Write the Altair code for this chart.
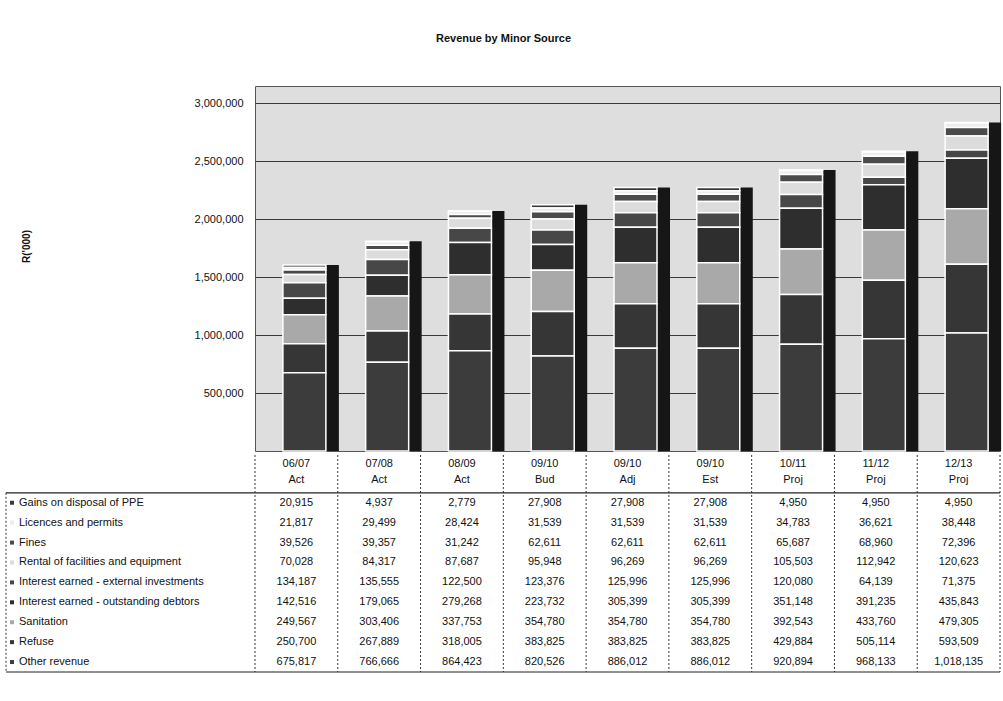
import altair as alt
import pandas as pd

# ---------------- data ----------------
years = ["06/07", "07/08", "08/09", "09/10", "09/10", "09/10", "10/11", "11/12", "12/13"]
kinds = ["Act", "Act", "Act", "Bud", "Adj", "Est", "Proj", "Proj", "Proj"]

series = [
    "Gains on disposal of PPE",
    "Licences and permits",
    "Fines",
    "Rental of facilities and equipment",
    "Interest earned - external investments",
    "Interest earned - outstanding debtors",
    "Sanitation",
    "Refuse",
    "Other revenue",
]

gains = [20915, 4937, 2779, 27908, 27908, 27908, 4950, 4950, 4950]
licences = [21817, 29499, 28424, 31539, 31539, 31539, 34783, 36621, 38448]
fines = [39526, 39357, 31242, 62611, 62611, 62611, 65687, 68960, 72396]
rental = [70028, 84317, 87687, 95948, 96269, 96269, 105503, 112942, 120623]
int_external = [134187, 135555, 122500, 123376, 125996, 125996, 120080, 64139, 71375]
int_debtors = [142516, 179065, 279268, 223732, 305399, 305399, 351148, 391235, 435843]
sanitation = [249567, 303406, 337753, 354780, 354780, 354780, 392543, 433760, 479305]
refuse = [250700, 267889, 318005, 383825, 383825, 383825, 429884, 505114, 593509]
other = [675817, 766666, 864423, 820526, 886012, 886012, 920894, 968133, 1018135]

values = [gains, licences, fines, rental, int_external, int_debtors, sanitation, refuse, other]

colors = ["#3a3a3a", "#ececec", "#4a4a4a", "#dcdcdc", "#474747",
          "#2e2e2e", "#a9a9a9", "#363636", "#3c3c3c"]

y_ticks = [500000, 1000000, 1500000, 2000000, 2500000, 3000000]

FONT = "Liberation Sans"

# ---------------- frames ----------------
cat_ids = [f"{y} {k}" for y, k in zip(years, kinds)]
rows = []
for si, (s, vals) in enumerate(zip(series, values)):
    for ci, v in enumerate(vals):
        rows.append({
            "series": s,
            "cat": cat_ids[ci],
            "col": ci + 0.5,
            "row": 1.9 + si + 0.5,
            "stack": len(series) - 1 - si,
            "value": v,
            "txt": f"{v:,}",
        })
df = pd.DataFrame(rows)

totals = pd.DataFrame({
    "cat": cat_ids,
    "total": [sum(v[i] for v in values) for i in range(len(cat_ids))],
})

hdr = pd.DataFrame({
    "col": [i + 0.5 for i in range(len(years))],
    "year": years, "kind": kinds,
    "ry": [0.45] * len(years), "rk": [1.25] * len(years),
})
lbl = pd.DataFrame({"series": series, "row": [1.9 + i + 0.5 for i in range(len(series))]})
vlines = pd.DataFrame({"x": list(range(len(years) + 1)), "y0": 0.0, "y1": 10.9})
hlines = pd.DataFrame({"y": [1.9, 10.9], "x0": 0.0, "x1": 9.0})
lab_vl = pd.DataFrame({"y0": [1.9], "y1": [10.9]})
lab_hl = pd.DataFrame({"y": [1.9, 10.9]})

color_scale = alt.Scale(domain=series, range=colors)

# ---------------- bar chart ----------------
xband = alt.X("cat:N", sort=cat_ids, axis=None,
              scale=alt.Scale(paddingInner=0, paddingOuter=0))
yq = alt.Scale(domain=[0, 3150000], nice=False)

side = alt.Chart(totals).mark_bar(width=13, xOffset=36, color="#161616").encode(
    x=xband,
    y=alt.Y("total:Q", scale=yq),
)

bars = alt.Chart(df).mark_bar(width=43, xOffset=8, stroke="#ffffff", strokeWidth=1.5).encode(
    x=xband,
    y=alt.Y("value:Q", stack="zero", scale=yq,
            axis=alt.Axis(values=y_ticks, format=",d", ticks=False, domain=False,
                          labelFont=FONT, labelFontSize=11, labelColor="#111",
                          labelPadding=12, gridColor="#3a3a3a", gridWidth=1,
                          title="R('000)", titleFont=FONT, titleFontSize=10,
                          titleFontWeight="bold", titleColor="#111",
                          titleAngle=270, titleX=-229, titleY=160,
                          titleAlign="center", titleBaseline="middle")),
    color=alt.Color("series:N", scale=color_scale, legend=None),
    order=alt.Order("stack:Q", sort="ascending"),
)

bar_chart = alt.layer(side, bars).properties(
    width=745, height=365,
    view=alt.ViewBackground(fill="#dedede", stroke="#555555", strokeWidth=1),
)

spacer = alt.Chart(pd.DataFrame({"v": [0]})).mark_point(opacity=0).encode(
    y=alt.Y("v:Q", axis=None)
).properties(width=249, height=365, view=alt.ViewBackground(stroke=None))

# ---------------- table ----------------
ty = alt.Scale(domain=[-0.2, 10.9], reverse=True, nice=False, zero=False)
tx = alt.Scale(domain=[0, 9], nice=False, zero=False)

cells = alt.Chart(df).mark_text(font=FONT, fontSize=11, color="#111").encode(
    x=alt.X("col:Q", scale=tx, axis=None),
    y=alt.Y("row:Q", scale=ty, axis=None),
    text="txt:N",
)
hy = alt.Chart(hdr).mark_text(font=FONT, fontSize=11, color="#111").encode(
    x=alt.X("col:Q", scale=tx, axis=None),
    y=alt.Y("ry:Q", scale=ty, axis=None),
    text="year:N",
)
hk = alt.Chart(hdr).mark_text(font=FONT, fontSize=11, color="#111").encode(
    x=alt.X("col:Q", scale=tx, axis=None),
    y=alt.Y("rk:Q", scale=ty, axis=None),
    text="kind:N",
)
vl = alt.Chart(vlines).mark_rule(color="#333", strokeDash=[2, 2], strokeWidth=1).encode(
    x=alt.X("x:Q", scale=tx, axis=None),
    y=alt.Y("y0:Q", scale=ty, axis=None),
    y2="y1:Q",
)
hl = alt.Chart(hlines).mark_rule(color="#222", strokeWidth=1.2).encode(
    x=alt.X("x0:Q", scale=tx, axis=None),
    x2="x1:Q",
    y=alt.Y("y:Q", scale=ty, axis=None),
)
table = alt.layer(vl, hl, hy, hk, cells).properties(
    width=745, height=221, view=alt.ViewBackground(stroke=None)
)

labels_txt = alt.Chart(lbl).mark_text(font=FONT, fontSize=11, color="#111", align="left").encode(
    x=alt.value(13),
    y=alt.Y("row:Q", scale=ty, axis=None),
    text="series:N",
)
labels_mark = alt.Chart(lbl).mark_square(size=16, opacity=1).encode(
    x=alt.value(6),
    y=alt.Y("row:Q", scale=ty, axis=None),
    color=alt.Color("series:N", scale=color_scale, legend=None),
)
lab_v = alt.Chart(lab_vl).mark_rule(color="#333", strokeDash=[2, 2]).encode(
    x=alt.value(0),
    y=alt.Y("y0:Q", scale=ty, axis=None),
    y2="y1:Q",
)
lab_h = alt.Chart(lab_hl).mark_rule(color="#222", strokeWidth=1.2).encode(
    x=alt.value(0),
    x2=alt.value(249),
    y=alt.Y("y:Q", scale=ty, axis=None),
)
label_chart = alt.layer(lab_v, lab_h, labels_mark, labels_txt).properties(
    width=249, height=221, view=alt.ViewBackground(stroke=None)
)

chart = alt.concat(
    spacer, bar_chart, label_chart, table,
    columns=2, spacing=0, bounds="flush",
).properties(
    title=alt.TitleParams("Revenue by Minor Source", font=FONT, fontSize=11,
                          fontWeight="bold", color="#111", anchor="middle", offset=42),
    padding={"left": 5, "top": 32, "right": 0, "bottom": 0},
    background="#ffffff",
)

chart.save("out.html", embed_options={"renderer": "svg", "actions": False})
